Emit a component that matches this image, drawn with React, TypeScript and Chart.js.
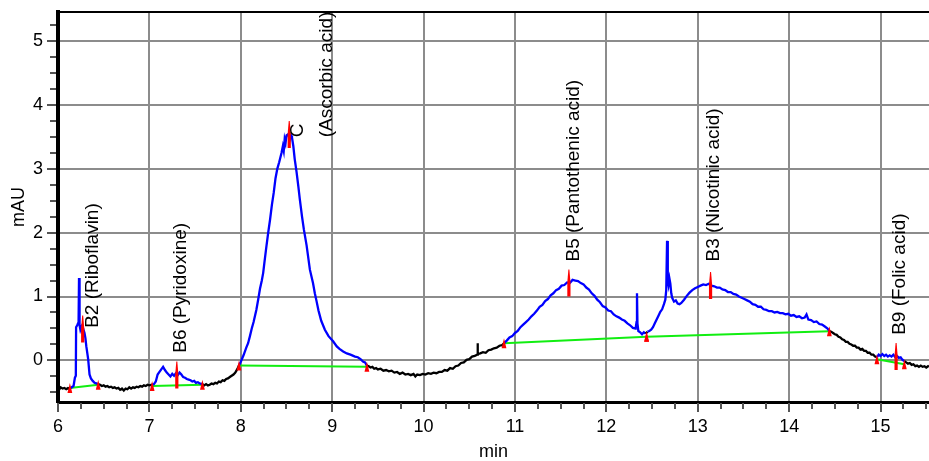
import React, { useEffect, useRef } from "react";
import { Chart, registerables } from "chart.js";

Chart.register(...registerables);

// ---- axes ----
const xRange = [6, 15.53];
const yRange = [-0.65, 5.45];
const xTickValues = [6, 7, 8, 9, 10, 11, 12, 13, 14, 15];
const yTickValues = [0, 1, 2, 3, 4, 5];
const xTitle = "min";
const yTitle = "mAU";

// ---- chromatogram trace: [time (min), absorbance (mAU)] ----
const trace: [number, number][] = [
  [6.00, -0.42], [6.02, -0.44], [6.03, -0.42], [6.05, -0.44], [6.07, -0.43], [6.09, -0.45], [6.11, -0.43], [6.13, -0.44],
  [6.15, -0.42], [6.17, -0.40], [6.185, -0.27], [6.195, -0.24], [6.198, 0.52], [6.21, 0.55], [6.225, 0.60], [6.23, 1.29],
  [6.236, 0.55], [6.245, 0.48], [6.255, 0.52], [6.265, 0.46], [6.275, 0.50], [6.29, 0.43], [6.30, 0.35], [6.31, 0.22],
  [6.33, 0.02], [6.345, -0.22], [6.36, -0.28], [6.38, -0.32], [6.40, -0.35], [6.42, -0.36], [6.44, -0.37],
  [6.46, -0.38], [6.48, -0.40], [6.50, -0.39], [6.52, -0.41], [6.54, -0.40], [6.56, -0.42], [6.58, -0.41], [6.60, -0.43],
  [6.62, -0.42], [6.64, -0.44], [6.66, -0.43], [6.68, -0.46], [6.70, -0.44], [6.72, -0.47], [6.74, -0.44], [6.76, -0.45],
  [6.78, -0.42], [6.80, -0.44], [6.82, -0.42], [6.84, -0.43], [6.86, -0.41], [6.88, -0.42], [6.90, -0.40], [6.92, -0.41],
  [6.94, -0.39], [6.96, -0.40], [6.98, -0.38], [7.00, -0.39], [7.03, -0.38],
  [7.05, -0.37], [7.07, -0.33], [7.09, -0.22], [7.11, -0.18], [7.13, -0.14], [7.15, -0.10], [7.17, -0.15], [7.19, -0.19],
  [7.21, -0.22], [7.23, -0.25], [7.25, -0.21], [7.27, -0.24], [7.29, -0.20], [7.31, -0.23], [7.33, -0.19], [7.35, -0.22],
  [7.37, -0.26], [7.39, -0.27], [7.41, -0.29], [7.43, -0.30], [7.45, -0.31], [7.47, -0.33], [7.49, -0.32], [7.51, -0.35],
  [7.53, -0.34], [7.55, -0.36], [7.58, -0.37],
  [7.60, -0.39], [7.62, -0.37], [7.64, -0.39], [7.66, -0.38], [7.68, -0.36], [7.70, -0.37], [7.72, -0.35], [7.74, -0.36],
  [7.76, -0.33], [7.78, -0.34], [7.80, -0.31], [7.82, -0.32], [7.84, -0.29], [7.86, -0.28], [7.88, -0.26], [7.90, -0.24],
  [7.92, -0.22], [7.94, -0.19], [7.96, -0.14], [7.98, -0.08],
  [8.00, -0.02], [8.03, 0.08], [8.06, 0.20], [8.08, 0.27], [8.10, 0.38], [8.12, 0.50], [8.14, 0.60], [8.17, 0.79],
  [8.19, 0.95], [8.21, 1.12], [8.23, 1.25], [8.245, 1.37], [8.26, 1.55], [8.28, 1.78], [8.30, 2.00], [8.32, 2.20],
  [8.34, 2.43], [8.36, 2.62], [8.38, 2.85], [8.40, 3.00], [8.42, 3.10], [8.446, 3.25], [8.46, 3.35], [8.47, 3.28],
  [8.48, 3.46], [8.49, 3.40], [8.50, 3.52], [8.52, 3.54], [8.535, 3.45], [8.55, 3.52], [8.56, 3.49], [8.575, 3.35],
  [8.59, 3.15], [8.61, 2.95], [8.63, 2.72], [8.646, 2.52], [8.67, 2.25], [8.69, 2.05], [8.72, 1.80], [8.756, 1.42],
  [8.79, 1.21], [8.81, 1.05], [8.83, 0.92], [8.85, 0.78], [8.88, 0.62], [8.92, 0.48], [8.96, 0.38], [9.01, 0.30],
  [9.05, 0.22], [9.08, 0.18], [9.12, 0.14], [9.16, 0.11], [9.20, 0.09], [9.25, 0.06], [9.28, 0.05], [9.31, 0.02],
  [9.34, -0.02], [9.36, -0.03], [9.38, -0.08],
  [9.40, -0.09], [9.42, -0.11], [9.44, -0.10], [9.46, -0.13], [9.48, -0.12], [9.50, -0.14], [9.53, -0.13], [9.56, -0.16],
  [9.59, -0.15], [9.62, -0.17], [9.65, -0.16], [9.68, -0.19], [9.71, -0.18], [9.74, -0.21], [9.77, -0.19], [9.80, -0.22],
  [9.83, -0.21], [9.86, -0.23], [9.89, -0.21], [9.91, -0.25], [9.93, -0.22], [9.96, -0.23], [9.99, -0.21], [10.02, -0.22],
  [10.05, -0.20], [10.08, -0.21], [10.11, -0.19], [10.14, -0.20], [10.17, -0.18], [10.20, -0.18], [10.23, -0.15], [10.26, -0.16],
  [10.29, -0.12], [10.32, -0.13], [10.35, -0.09], [10.38, -0.08], [10.41, -0.04], [10.44, -0.03], [10.47, 0.01], [10.50, 0.02],
  [10.53, 0.06], [10.56, 0.07], [10.585, 0.09], [10.59, 0.27], [10.595, 0.10], [10.62, 0.11], [10.65, 0.13], [10.68, 0.12],
  [10.71, 0.16], [10.74, 0.17], [10.77, 0.19], [10.80, 0.20], [10.83, 0.23], [10.86, 0.24], [10.88, 0.27],
  [10.91, 0.31], [10.94, 0.36], [10.97, 0.38], [11.00, 0.43], [11.03, 0.46], [11.06, 0.52], [11.09, 0.56], [11.12, 0.60],
  [11.15, 0.64], [11.18, 0.69], [11.21, 0.73], [11.24, 0.78], [11.27, 0.84], [11.30, 0.87], [11.33, 0.93], [11.36, 0.96],
  [11.39, 1.02], [11.42, 1.05], [11.45, 1.10], [11.48, 1.12], [11.51, 1.17], [11.54, 1.18], [11.57, 1.22], [11.60, 1.21],
  [11.63, 1.26], [11.66, 1.25], [11.69, 1.24], [11.72, 1.21], [11.75, 1.19], [11.78, 1.14], [11.81, 1.11], [11.84, 1.05],
  [11.87, 1.01], [11.90, 0.95], [11.93, 0.91], [11.96, 0.85], [11.99, 0.83], [12.02, 0.78], [12.05, 0.77], [12.08, 0.72],
  [12.11, 0.69], [12.14, 0.67], [12.17, 0.64], [12.20, 0.62], [12.23, 0.58], [12.26, 0.55], [12.29, 0.51], [12.32, 0.50],
  [12.33, 0.60], [12.335, 1.05], [12.34, 0.58], [12.35, 0.46], [12.37, 0.44], [12.39, 0.41], [12.41, 0.44], [12.43, 0.42],
  [12.45, 0.45], [12.47, 0.46], [12.49, 0.48], [12.51, 0.52], [12.53, 0.58], [12.55, 0.64], [12.57, 0.70], [12.59, 0.76],
  [12.61, 0.80], [12.63, 0.88], [12.645, 0.95], [12.655, 1.10], [12.664, 1.87], [12.672, 1.25], [12.68, 1.18], [12.69, 1.28],
  [12.70, 1.20], [12.71, 1.05], [12.72, 0.98], [12.74, 0.92], [12.76, 0.94], [12.78, 0.89], [12.80, 0.88], [12.82, 0.90],
  [12.85, 0.95], [12.88, 1.01], [12.91, 1.06], [12.94, 1.10], [12.97, 1.13], [13.00, 1.15], [13.03, 1.17], [13.06, 1.19],
  [13.09, 1.18], [13.12, 1.20], [13.15, 1.17], [13.18, 1.16], [13.21, 1.14], [13.24, 1.14], [13.27, 1.11], [13.30, 1.10],
  [13.33, 1.07], [13.36, 1.07], [13.39, 1.04], [13.42, 1.03], [13.45, 1.00], [13.48, 0.98], [13.51, 0.96], [13.54, 0.94],
  [13.57, 0.92], [13.60, 0.88], [13.63, 0.87], [13.66, 0.84], [13.69, 0.84], [13.72, 0.80], [13.75, 0.79], [13.78, 0.77],
  [13.81, 0.77], [13.84, 0.75], [13.87, 0.76], [13.90, 0.74], [13.93, 0.74], [13.96, 0.72], [13.99, 0.73], [14.02, 0.70],
  [14.05, 0.71], [14.08, 0.68], [14.11, 0.69], [14.14, 0.66], [14.17, 0.67], [14.19, 0.72], [14.21, 0.64], [14.24, 0.63],
  [14.27, 0.60], [14.30, 0.61], [14.33, 0.57], [14.36, 0.56], [14.39, 0.53], [14.42, 0.50], [14.44, 0.46],
  [14.46, 0.45], [14.48, 0.43], [14.50, 0.41], [14.52, 0.40], [14.54, 0.37], [14.56, 0.36], [14.58, 0.33], [14.60, 0.32],
  [14.62, 0.29], [14.64, 0.29], [14.66, 0.26], [14.68, 0.25], [14.70, 0.23], [14.72, 0.23], [14.74, 0.20], [14.76, 0.20],
  [14.78, 0.17], [14.80, 0.18], [14.82, 0.15], [14.84, 0.15], [14.86, 0.12], [14.88, 0.12], [14.90, 0.09], [14.92, 0.09],
  [14.94, 0.06], [14.96, 0.05],
  [14.98, 0.09], [15.00, 0.07], [15.02, 0.10], [15.04, 0.07], [15.06, 0.09], [15.08, 0.06], [15.10, 0.08], [15.12, 0.06],
  [15.14, 0.09], [15.16, 0.05], [15.18, 0.07], [15.20, 0.04], [15.22, 0.05], [15.24, 0.01], [15.26, -0.01],
  [15.28, -0.03], [15.30, -0.05], [15.32, -0.04], [15.34, -0.07], [15.36, -0.06], [15.38, -0.09], [15.40, -0.08], [15.42, -0.10],
  [15.44, -0.08], [15.46, -0.10], [15.48, -0.09], [15.50, -0.11], [15.52, -0.09], [15.53, -0.10],
];

// ---- integration windows and baselines ----
const peakStart = [6.13, 7.03, 7.98, 10.88, 12.44, 14.96];
const peakEnd = [6.44, 7.58, 9.38, 12.44, 14.44, 15.26];
const baseStartAU = [-0.43, -0.40, -0.08, 0.27, 0.37, 0.02];
const baseEndAU = [-0.38, -0.38, -0.10, 0.37, 0.455, -0.06];

// ---- peak apexes and labels ----
const peakNames: string[][] = [
  ["B2 (Riboflavin)"],
  ["B6 (Pyridoxine)"],
  ["C", "(Ascorbic acid)"],
  ["B5 (Pantothenic acid)"],
  ["B3 (Nicotinic acid)"],
  ["B9 (Folic acid)"],
];
const apexTime = [6.27, 7.30, 8.53, 11.59, 13.14, 15.17];
const apexAU = [0.50, -0.22, 3.54, 1.22, 1.18, 0.07];
const labelTime = [6.383, 7.34, 8.625, 11.64, 13.18, 15.21];
const labelAU = [0.51, 0.12, 3.49, 1.547, 1.547, 0.40];

const BLUE = "#0000ff";
const BLACK = "#000000";
const GREEN = "#11ee11";
const RED = "#ff0000";
const GRID = "#8c8c8c";
const FONT = '"Liberation Sans", Arial, Helvetica, sans-serif';

function inPeak(a: number, b: number) {
  for (let i = 0; i < peakStart.length; i++) {
    if (a >= peakStart[i] - 1e-6 && b <= peakEnd[i] + 1e-6) return true;
  }
  return false;
}

const annotPlugin = {
  id: "annot",
  afterDatasetsDraw(chart: any) {
    const { ctx, chartArea } = chart;
    const xs = chart.scales.x;
    const ys = chart.scales.y;
    ctx.save();
    ctx.beginPath();
    ctx.rect(chartArea.left, chartArea.top, chartArea.right - chartArea.left, chartArea.bottom - chartArea.top);
    ctx.clip();
    ctx.fillStyle = RED;
    // boundary markers
    const bx: number[] = [];
    const by: number[] = [];
    peakStart.forEach((t, i) => { bx.push(t); by.push(baseStartAU[i]); bx.push(peakEnd[i]); by.push(baseEndAU[i]); });
    bx.forEach((t, i) => {
      const px = xs.getPixelForValue(t);
      const py = ys.getPixelForValue(by[i]);
      ctx.beginPath();
      ctx.moveTo(px, py - 5);
      ctx.lineTo(px + 2.4, py + 5);
      ctx.lineTo(px - 2.4, py + 5);
      ctx.closePath();
      ctx.fill();
    });
    // apex markers
    apexTime.forEach((t, i) => {
      const px = xs.getPixelForValue(t);
      const py = ys.getPixelForValue(apexAU[i]);
      ctx.beginPath();
      ctx.moveTo(px - 0.5, py - 13);
      ctx.lineTo(px + 0.5, py - 13);
      ctx.lineTo(px + 1.6, py);
      ctx.lineTo(px + 1.6, py + 14);
      ctx.lineTo(px - 1.6, py + 14);
      ctx.lineTo(px - 1.6, py);
      ctx.closePath();
      ctx.fill();
    });
    ctx.restore();

    // labels
    ctx.save();
    ctx.fillStyle = BLACK;
    ctx.font = "19px " + FONT;
    ctx.textAlign = "left";
    ctx.textBaseline = "middle";
    peakNames.forEach((lines, i) => {
      const px = xs.getPixelForValue(labelTime[i]);
      const py = ys.getPixelForValue(labelAU[i]);
      ctx.save();
      ctx.translate(px, py);
      ctx.rotate(-Math.PI / 2);
      lines.forEach((ln, j) => ctx.fillText(ln, 0, j * 29));
      ctx.restore();
    });
    ctx.restore();
  },
  afterDraw(chart: any) {
    const { ctx, chartArea } = chart;
    const xs = chart.scales.x;
    const ys = chart.scales.y;
    ctx.save();
    // top border
    ctx.strokeStyle = BLACK;
    ctx.lineWidth = 2;
    ctx.beginPath();
    ctx.moveTo(chartArea.left, chartArea.top);
    ctx.lineTo(chartArea.right, chartArea.top);
    ctx.stroke();
    // ticks
    ctx.strokeStyle = "#555555";
    ctx.lineWidth = 2;
    for (let k = Math.ceil(yRange[0] / 0.25); k * 0.25 <= yRange[1]; k++) {
      const v = k * 0.25;
      const py = Math.round(ys.getPixelForValue(v));
      const len = k % 4 === 0 ? 9 : 6;
      ctx.beginPath();
      ctx.moveTo(chartArea.left - 2, py);
      ctx.lineTo(chartArea.left - 2 - len, py);
      ctx.stroke();
    }
    for (let k = Math.ceil(xRange[0] / 0.25); k * 0.25 <= xRange[1]; k++) {
      const v = k * 0.25;
      const px = Math.round(xs.getPixelForValue(v));
      const len = k % 4 === 0 ? 9 : 6;
      ctx.beginPath();
      ctx.moveTo(px, chartArea.bottom + 1);
      ctx.lineTo(px, chartArea.bottom + 1 + len);
      ctx.stroke();
    }
    ctx.restore();
  },
};

export default function App() {
  const ref = useRef<HTMLCanvasElement | null>(null);
  useEffect(() => {
    if (!ref.current) return;
    const baseline: any[] = [];
    peakStart.forEach((t, i) => {
      baseline.push({ x: t, y: baseStartAU[i] });
      baseline.push({ x: peakEnd[i], y: baseEndAU[i] });
      baseline.push({ x: peakEnd[i] + 0.0001, y: null });
    });
    const chart = new Chart(ref.current, {
      type: "line",
      data: {
        datasets: [
          {
            label: "baseline",
            data: baseline,
            borderColor: GREEN,
            borderWidth: 2,
            pointRadius: 0,
            spanGaps: false,
            order: 2,
          } as any,
          {
            label: "signal",
            data: trace.map(([x, y]) => ({ x, y })),
            borderColor: BLACK,
            borderWidth: 2.3,
            pointRadius: 0,
            tension: 0,
            order: 1,
            segment: {
              borderColor: (c: any) => (inPeak(c.p0.parsed.x, c.p1.parsed.x) ? BLUE : BLACK),
            },
          } as any,
        ],
      },
      options: {
        animation: false,
        responsive: false,
        devicePixelRatio: 1,
        layout: { padding: { top: 12, left: 0, right: 0, bottom: 0 } },
        plugins: { legend: { display: false }, tooltip: { enabled: false } },
        scales: {
          x: {
            type: "linear",
            min: xRange[0],
            max: xRange[1],
            afterFit: (s: any) => { s.height = 59; s.paddingLeft = 0; s.paddingRight = 0; },
            afterBuildTicks: (s: any) => { s.ticks = xTickValues.map((v) => ({ value: v })); },
            ticks: { color: BLACK, font: { family: FONT, size: 18 }, padding: 14, maxRotation: 0, autoSkip: false, includeBounds: false },
            grid: { color: GRID, lineWidth: 2, drawTicks: false },
            border: { display: true, color: BLACK, width: 3 },
            title: { display: true, text: xTitle, color: BLACK, font: { family: FONT, size: 18, lineHeight: 1 }, padding: { top: 0, bottom: 0 } },
          },
          y: {
            type: "linear",
            min: yRange[0],
            max: yRange[1],
            afterFit: (s: any) => { s.width = 58; s.paddingTop = 0; s.paddingBottom = 0; },
            afterBuildTicks: (s: any) => { s.ticks = yTickValues.map((v) => ({ value: v })); },
            ticks: { color: BLACK, font: { family: FONT, size: 18 }, padding: 15, includeBounds: false },
            grid: { color: GRID, lineWidth: 2, drawTicks: false },
            border: { display: true, color: BLACK, width: 4 },
            title: { display: true, text: yTitle, color: BLACK, font: { family: FONT, size: 18, lineHeight: 1 }, padding: { top: 10, bottom: 0 } },
          },
        },
      },
      plugins: [annotPlugin],
    } as any);
    return () => chart.destroy();
  }, []);
  return (
    <div style={{ position: "absolute", left: 0, top: 0, width: 929, height: 461, background: "#fff" }}>
      <canvas ref={ref} width={929} height={461} style={{ width: 929, height: 461, display: "block" }} />
    </div>
  );
}
